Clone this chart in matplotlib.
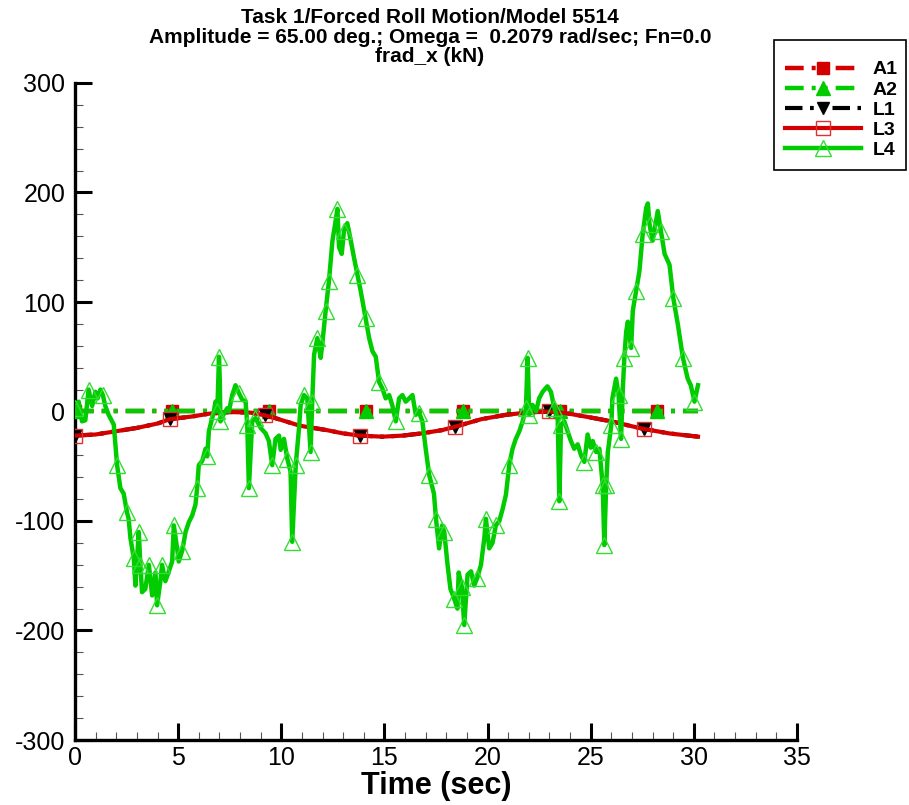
import matplotlib
matplotlib.use("Agg")
import matplotlib.pyplot as plt
from matplotlib.ticker import MultipleLocator
from matplotlib.patches import Rectangle

plt.rcParams['font.family'] = ['Liberation Sans', 'DejaVu Sans']
plt.rcParams['axes.unicode_minus'] = False

# ---------------- data ----------------
title_lines = ["Task 1/Forced Roll Motion/Model 5514",
               "Amplitude = 65.00 deg.; Omega =  0.2079 rad/sec; Fn=0.0",
               "frad_x (kN)"]
x_label = "Time (sec)"
series_names = ["A1", "A2", "L1", "L3", "L4"]

# A1 / A2 : constant zero
a_t = [0.0, 4.7, 9.4, 14.1, 18.8, 23.5, 28.2, 30.2]
a1_v = [0, 0, 0, 0, 0, 0, 0, 0]
a2_v = [0, 0, 0, 0, 0, 0, 0, 0]

# L1 / L3 : smooth curve
l_t = [0.0, 1.0, 2.0, 3.0, 4.0, 4.6, 5.7, 6.5, 7.5, 8.5, 9.2, 9.7, 10.9, 12.2,
       13.0, 13.8, 14.9, 15.9, 16.8, 17.8, 18.4, 19.7, 20.9, 21.9, 23.0, 23.8,
       25.0, 26.0, 27.0, 27.6, 28.8, 30.2]
l3_v = [-22, -21, -18, -15, -11, -7, -4.5, -2, -0.5, -1, -3.5, -6, -13, -17,
        -20, -22, -23, -22, -20, -17, -14, -7, -3, -1, 0, -1.5,
        -5.5, -9, -13.5, -16, -20, -23]
l1_v = list(l3_v)

# L4 : noisy measurement
l4_t = [0.0, 0.18, 0.34, 0.5, 0.66, 0.83, 0.99, 1.1, 1.23, 1.35, 1.47, 1.63, 1.88,
        2.04, 2.2, 2.36, 2.52, 2.6, 2.69, 2.85, 2.93, 3.09, 3.17, 3.25, 3.41, 3.58,
        3.74, 3.9, 3.98, 4.14, 4.22, 4.38, 4.55, 4.71, 4.79, 4.95, 5.03, 5.2, 5.36,
        5.52, 5.68, 5.84, 5.92, 6.0, 6.17, 6.33, 6.41, 6.49, 6.65, 6.73, 6.81, 6.9,
        6.98, 7.02, 7.05, 7.22, 7.38, 7.46, 7.62, 7.78, 7.94, 8.1, 8.27, 8.35, 8.43,
        8.59, 8.75, 9.0, 9.24, 9.4, 9.56, 9.72, 9.89, 9.97, 10.13, 10.29, 10.45,
        10.53, 10.7, 10.86, 10.94, 11.1, 11.26, 11.42, 11.5, 11.59, 11.75, 11.91,
        11.99, 12.15, 12.31, 12.48, 12.61, 12.72, 12.8, 12.93, 13.04, 13.2, 13.37,
        13.53, 13.69, 13.85, 14.09, 14.26, 14.42, 14.58, 14.74, 14.9, 15.06, 15.23,
        15.39, 15.55, 15.71, 15.87, 16.03, 16.2, 16.36, 16.52, 16.68, 16.84, 17.0,
        17.17, 17.33, 17.4, 17.5, 17.65, 17.8, 17.9, 18.06, 18.2, 18.38, 18.54,
        18.6, 18.75, 18.87, 19.03, 19.2, 19.35, 19.5, 19.68, 19.84, 19.92, 20.08,
        20.24, 20.4, 20.57, 20.73, 20.89, 21.05, 21.21, 21.37, 21.54, 21.7, 21.86,
        21.94, 22.02, 22.18, 22.35, 22.5, 22.67, 22.9, 23.07, 23.24, 23.4, 23.48,
        23.56, 23.72, 23.88, 24.04, 24.2, 24.37, 24.53, 24.69, 24.85, 25.0, 25.1,
        25.26, 25.42, 25.58, 25.66, 25.75, 25.83, 26.0, 26.05, 26.23, 26.35, 26.47,
        26.55, 26.63, 26.72, 26.8, 26.96, 27.04, 27.2, 27.36, 27.52, 27.69, 27.77,
        27.85, 28.0, 28.17, 28.25, 28.4, 28.58, 28.82, 29.0, 29.22, 29.47, 29.7,
        29.85, 30.03, 30.2]
l4_v = [3, 9, -9, -8, 20, 5, 18, 12, 20, 15, 5, -3, -12,
        -49, -70, -75, -92, -98, -116, -134, -159, -110, -140, -165, -162, -140,
        -168, -147, -177, -155, -140, -155, -146, -137, -104, -125, -137, -127, -110,
        -101, -95, -85, -70, -49, -45, -34, -41, -18, -6, 0, 9, 0,
        50, 27, -9, -2, 3, 0, 15, 24, 17, 11, 9, -12, -70,
        -9, -6, -15, -20, -27, -49, -25, -22, -35, -25, -43, -55,
        -119, -49, -15, 6, 15, 12, -37, 9, 52, 67, 49,
        62, 92, 119, 156, 171, 185, 150, 144, 165, 172, 156,
        140, 125, 110, 85, 67, 55, 50, 27, 21, 12, 15,
        5, -9, 12, 15, 9, 12, 15, -3, -1, -9, -34,
        -58, -70, -75, -98, -125, -104, -110, -140, -162, -171, -180,
        -147, -160, -195, -149, -146, -159, -152, -140, -116, -98, -125,
        -120, -104, -100, -89, -76, -49, -34, -25, -18, -9, 3,
        49, -3, 6, 0, 12, 18, 23, 18, 3, -6, -82,
        -12, -9, -18, -27, -34, -30, -40, -46, -21, -33, -27,
        -37, -34, -67, -122, -67, -37, -12, 12, 30, 15, -25,
        18, 49, 73, 82, 58, 92, 110, 128, 162, 186, 190,
        171, 156, 174, 183, 165, 144, 134, 104, 80, 49, 30,
        24, 9, 24]

x_ticks = [0, 5, 10, 15, 20, 25, 30, 35]
y_ticks = [-300, -200, -100, 0, 100, 200, 300]

# ---------------- figure ----------------
RED = '#D40000'
GREEN = '#00CC00'
LGREEN = '#33DD33'

W, H = 909, 805
fig = plt.figure(figsize=(W / 100, H / 100), dpi=100)
ax = fig.add_axes([75 / W, 1 - 740 / H, (797 - 75) / W, (740 - 83) / H])

dd = (4.2, 1.8, 0.9, 1.8, 0.9, 1.8)

ax.plot(a_t, a1_v, color=RED, lw=3.2, dashes=dd, marker='s', ms=9,
        mfc=RED, mec=RED, markevery=list(range(7)), label=series_names[0], zorder=3)
ax.plot(a_t, a2_v, color=GREEN, lw=3.2, dashes=dd, marker='^', ms=10,
        mfc=GREEN, mec=GREEN, markevery=list(range(7)), label=series_names[1], zorder=4)
mk_idx = [l_t.index(v) for v in [0.0, 4.6, 9.2, 13.8, 18.4, 23.0, 27.6]]
ax.plot(l_t, l1_v, color='black', lw=3.0, dashes=dd, marker='v', ms=9,
        mfc='black', mec='black', markevery=mk_idx, label=series_names[2], zorder=5)
ax.plot(l_t, l3_v, color=RED, lw=3.0, marker='s', ms=10, mfc='none', mec='#E03030',
        mew=1.0, markevery=mk_idx, label=series_names[3], zorder=6)
ax.plot(l4_t, l4_v, color=GREEN, lw=3.2, marker='^', ms=12, mfc='none', mec=LGREEN,
        mew=1.0, markevery=0.06, label=series_names[4], zorder=7)

ax.set_xlim(0, 35)
ax.set_ylim(-300, 300)
ax.set_xticks(x_ticks)
ax.set_yticks(y_ticks)
ax.xaxis.set_minor_locator(MultipleLocator(1))
ax.yaxis.set_minor_locator(MultipleLocator(20))
for s in ['top', 'right']:
    ax.spines[s].set_visible(False)
for s in ['left', 'bottom']:
    ax.spines[s].set_linewidth(2.4)
ax.tick_params(which='major', direction='in', length=12, width=2.2, labelsize=18, pad=7)
ax.tick_params(which='minor', direction='in', length=6.0, width=0.8, color='#555555')
ax.tick_params(axis='x', which='major', pad=4)

ax.set_xlabel(x_label, fontsize=22, fontweight='bold', labelpad=1)

fig.text(430 / W, 1 - 8 / H, "\n".join(title_lines), ha='center', va='top',
         fontsize=15, fontweight='bold', linespacing=1.04)

# legend: frame drawn separately for exact placement
fig.patches.append(Rectangle((774 / W, 1 - 170 / H), (906 - 774) / W, (170 - 40) / H,
                             transform=fig.transFigure, fill=False, ec='black', lw=1.2))
leg = fig.legend(loc='upper left', bbox_to_anchor=(781 / W, 1 - 57 / H), borderaxespad=0,
                 prop={'weight': 'bold', 'size': 14}, frameon=False,
                 handlelength=3.9, handletextpad=0.6,
                 labelspacing=0.13, borderpad=0.2)

fig.savefig("out.png", dpi=100)
